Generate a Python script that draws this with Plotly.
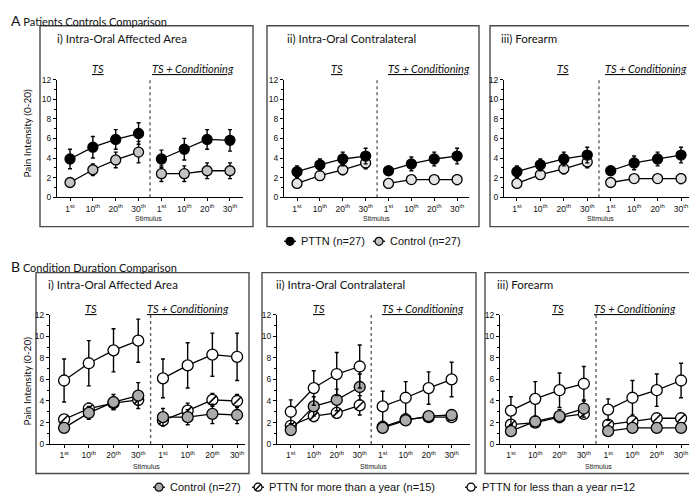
import plotly.graph_objects as go

W, H = 697, 494

# ---------------- data ----------------
stim_ticks = ["1<sup>st</sup>", "10<sup>th</sup>", "20<sup>th</sup>", "30<sup>th</sup>"] * 2
ts_x = [0, 1, 2, 3]
cond_x = [4, 5, 6, 7]

# A i) Intra-Oral Affected Area
a1_pttn_ts = [3.9, 5.1, 5.9, 6.5]
a1_pttn_ts_err = [1.0, 1.1, 1.0, 1.1]
a1_ctrl_ts = [1.5, 2.8, 3.8, 4.6]
a1_ctrl_ts_err = [0.3, 0.6, 0.8, 1.1]
a1_pttn_cond = [3.9, 4.9, 5.9, 5.8]
a1_pttn_cond_err = [0.9, 1.1, 1.0, 1.1]
a1_ctrl_cond = [2.4, 2.4, 2.7, 2.7]
a1_ctrl_cond_err = [0.8, 0.8, 0.8, 0.8]

# A ii) Intra-Oral Contralateral
a2_pttn_ts = [2.6, 3.3, 3.9, 4.2]
a2_pttn_ts_err = [0.6, 0.6, 0.7, 0.8]
a2_ctrl_ts = [1.4, 2.2, 2.8, 3.5]
a2_ctrl_ts_err = [0.3, 0.3, 0.5, 0.6]
a2_pttn_cond = [2.7, 3.4, 3.9, 4.2]
a2_pttn_cond_err = [0.4, 0.7, 0.7, 0.8]
a2_ctrl_cond = [1.4, 1.8, 1.8, 1.8]
a2_ctrl_cond_err = [0.3, 0.4, 0.4, 0.5]

# A iii) Forearm
a3_pttn_ts = [2.6, 3.3, 3.9, 4.3]
a3_pttn_ts_err = [0.6, 0.6, 0.7, 0.8]
a3_ctrl_ts = [1.4, 2.3, 2.9, 3.6]
a3_ctrl_ts_err = [0.3, 0.3, 0.5, 0.6]
a3_pttn_cond = [2.7, 3.5, 3.9, 4.3]
a3_pttn_cond_err = [0.4, 0.7, 0.7, 0.8]
a3_ctrl_cond = [1.5, 1.9, 1.9, 1.9]
a3_ctrl_cond_err = [0.3, 0.4, 0.4, 0.5]

# B i) Intra-Oral Affected Area
b1_ctrl_ts = [1.5, 2.9, 3.9, 4.5]
b1_ctrl_ts_err = [0.4, 0.6, 0.7, 1.2]
b1_more_ts = [2.3, 3.3, 3.8, 4.1]
b1_more_ts_err = [0.4, 0.5, 0.6, 0.5]
b1_less_ts = [5.9, 7.5, 8.7, 9.6]
b1_less_ts_err = [2.0, 2.1, 2.0, 2.0]
b1_ctrl_cond = [2.5, 2.5, 2.8, 2.7]
b1_ctrl_cond_err = [0.8, 0.7, 0.9, 0.8]
b1_more_cond = [2.2, 3.1, 4.1, 4.0]
b1_more_cond_err = [0.5, 0.7, 0.6, 0.6]
b1_less_cond = [6.1, 7.3, 8.3, 8.1]
b1_less_cond_err = [1.8, 2.1, 2.0, 2.2]

# B ii) Intra-Oral Contralateral
b2_ctrl_ts = [1.3, 3.5, 4.1, 5.3]
b2_ctrl_ts_err = [0.3, 0.9, 1.0, 1.2]
b2_more_ts = [1.7, 2.6, 2.9, 3.6]
b2_more_ts_err = [0.4, 0.5, 0.5, 0.9]
b2_less_ts = [3.0, 5.2, 6.5, 7.2]
b2_less_ts_err = [1.1, 1.6, 2.0, 2.0]
b2_ctrl_cond = [1.5, 2.2, 2.6, 2.7]
b2_ctrl_cond_err = [0.3, 0.4, 0.4, 0.5]
b2_more_cond = [1.6, 2.3, 2.5, 2.5]
b2_more_cond_err = [0.3, 0.3, 0.3, 0.3]
b2_less_cond = [3.5, 4.3, 5.2, 6.0]
b2_less_cond_err = [1.4, 1.5, 1.5, 1.6]

# B iii) Forearm
b3_ctrl_ts = [1.2, 2.1, 2.6, 3.3]
b3_ctrl_ts_err = [0.3, 0.4, 0.6, 0.8]
b3_more_ts = [1.8, 2.0, 2.5, 2.8]
b3_more_ts_err = [0.4, 0.4, 0.4, 0.4]
b3_less_ts = [3.1, 4.2, 5.0, 5.6]
b3_less_ts_err = [1.3, 1.6, 1.6, 1.6]
b3_ctrl_cond = [1.2, 1.5, 1.5, 1.5]
b3_ctrl_cond_err = [0.3, 0.3, 0.3, 0.3]
b3_more_cond = [1.8, 2.1, 2.4, 2.4]
b3_more_cond_err = [0.3, 0.3, 0.3, 0.3]
b3_less_cond = [3.2, 4.3, 5.0, 5.9]
b3_less_cond_err = [1.0, 1.6, 1.5, 1.6]

panel_titles = ["i) Intra-Oral Affected Area", "ii) Intra-Oral Contralateral", "iii) Forearm"]
legend_a = ["PTTN (n=27)", "Control (n=27)"]
legend_b = ["Control (n=27)", "PTTN for more than a year (n=15)", "PTTN for less than a year n=12"]

# ---------------- styling ----------------
TITLE_FONT = "Lato, 'Noto Sans', sans-serif"
ARIAL = "'Liberation Sans', Arial, sans-serif"
BLACK = "#000000"
GREY_A = "#c4c4c4"
GREY_A2 = "#e4e4e4"
GREY_B = "#ababab"
WHITE = "#ffffff"
BOX = "#4a4a4a"


def X(px):
    return px / W


def Y(py):
    return 1 - py / H


fig = go.Figure()

panels = [
    dict(n=1, xd=(49, 235), xr=(-0.57, 7.57), yd=(68, 188), box=(32, 13, 245, 218),
         title=(47, 26), ts=(90, 185), tsy=57, stim=(140, 210)),
    dict(n=2, xd=(276, 461), xr=(-0.57, 7.52), yd=(68, 188), box=(259, 13, 471, 218),
         title=(277, 26), ts=(329, 421), tsy=57, stim=(368, 210)),
    dict(n=3, xd=(496, 685), xr=(-0.55, 7.51), yd=(68, 188), box=(482, 13, 692, 218),
         title=(491, 26), ts=(555, 638), tsy=57, stim=(592, 210)),
    dict(n=4, xd=(42, 237), xr=(-0.57, 7.32), yd=(308, 440), box=(28, 265, 241, 470),
         title=(38, 277), ts=(83, 180), tsy=302, stim=(138, 463)),
    dict(n=5, xd=(269, 462), xr=(-0.6, 7.8), yd=(308, 440), box=(254, 265, 468, 470),
         title=(266, 277), ts=(311, 415), tsy=302, stim=(365, 463)),
    dict(n=6, xd=(492, 684), xr=(-0.45, 7.45), yd=(308, 440), box=(477, 265, 691, 470),
         title=(487, 277), ts=(550, 627), tsy=302, stim=(590, 463)),
]

series_a = [
    [(a1_ctrl_ts, a1_ctrl_ts_err, a1_ctrl_cond, a1_ctrl_cond_err, GREY_A, False),
     (a1_pttn_ts, a1_pttn_ts_err, a1_pttn_cond, a1_pttn_cond_err, BLACK, False)],
    [(a2_ctrl_ts, a2_ctrl_ts_err, a2_ctrl_cond, a2_ctrl_cond_err, GREY_A2, False),
     (a2_pttn_ts, a2_pttn_ts_err, a2_pttn_cond, a2_pttn_cond_err, BLACK, False)],
    [(a3_ctrl_ts, a3_ctrl_ts_err, a3_ctrl_cond, a3_ctrl_cond_err, GREY_A2, False),
     (a3_pttn_ts, a3_pttn_ts_err, a3_pttn_cond, a3_pttn_cond_err, BLACK, False)],
]
series_b = [
    [(b1_more_ts, b1_more_ts_err, b1_more_cond, b1_more_cond_err, WHITE, True),
     (b1_ctrl_ts, b1_ctrl_ts_err, b1_ctrl_cond, b1_ctrl_cond_err, GREY_B, False),
     (b1_less_ts, b1_less_ts_err, b1_less_cond, b1_less_cond_err, WHITE, False)],
    [(b2_more_ts, b2_more_ts_err, b2_more_cond, b2_more_cond_err, WHITE, True),
     (b2_ctrl_ts, b2_ctrl_ts_err, b2_ctrl_cond, b2_ctrl_cond_err, GREY_B, False),
     (b2_less_ts, b2_less_ts_err, b2_less_cond, b2_less_cond_err, WHITE, False)],
    [(b3_more_ts, b3_more_ts_err, b3_more_cond, b3_more_cond_err, WHITE, True),
     (b3_ctrl_ts, b3_ctrl_ts_err, b3_ctrl_cond, b3_ctrl_cond_err, GREY_B, False),
     (b3_less_ts, b3_less_ts_err, b3_less_cond, b3_less_cond_err, WHITE, False)],
]
all_series = series_a + series_b

annotations = []
shapes = []

for p, series in zip(panels, all_series):
    n = p["n"]
    xa = "x" if n == 1 else f"x{n}"
    ya = "y" if n == 1 else f"y{n}"
    msize = 10 if n <= 3 else 11
    for ts_v, ts_e, c_v, c_e, fill, hatched in series:
        for xs, vs, es in ((ts_x, ts_v, ts_e), (cond_x, c_v, c_e)):
            fig.add_trace(go.Scatter(
                x=xs, y=vs, xaxis=xa, yaxis=ya, mode="lines+markers",
                line=dict(color=BLACK, width=1.3),
                marker=dict(size=msize, color=fill, line=dict(color=BLACK, width=1.3)),
                error_y=dict(type="data", array=es, color=BLACK, thickness=1.4, width=2),
                showlegend=False, hoverinfo="skip", cliponaxis=False))
            if hatched:
                fig.add_trace(go.Scatter(
                    x=xs, y=vs, xaxis=xa, yaxis=ya, mode="markers",
                    marker=dict(size=msize - 3, symbol="line-ne",
                                line=dict(color=BLACK, width=1.6)),
                    showlegend=False, hoverinfo="skip", cliponaxis=False))

    key = "" if n == 1 else str(n)
    fig.layout["xaxis" + key] = dict(
        domain=[X(p["xd"][0]), X(p["xd"][1])], range=list(p["xr"]), anchor=ya,
        tickmode="array", tickvals=list(range(8)), ticktext=stim_ticks,
        showline=True, linecolor=BLACK, linewidth=1.3, ticks="outside", ticklen=3,
        tickcolor=BLACK, showgrid=False, zeroline=False,
        tickfont=dict(family=ARIAL, size=8.5, color="#111"), fixedrange=True)
    fig.layout["yaxis" + key] = dict(
        domain=[Y(p["yd"][1]), Y(p["yd"][0])], range=[0, 12], anchor=xa,
        tickvals=[0, 2, 4, 6, 8, 10, 12], showline=True, linecolor=BLACK, linewidth=1.3,
        ticks="outside", ticklen=3, tickcolor=BLACK, showgrid=False, zeroline=False,
        minor=dict(ticks="outside", dtick=1, ticklen=2, tickcolor=BLACK, showgrid=False),
        tickfont=dict(family=ARIAL, size=8.5, color="#111"), fixedrange=True)

    shapes.append(dict(type="line", xref=xa, yref=ya, x0=3.5, x1=3.5, y0=0, y1=12,
                       line=dict(color="#555555", width=1.3, dash="dot")))
    bx0, by0, bx1, by1 = p["box"]
    shapes.append(dict(type="rect", xref="paper", yref="paper", x0=X(bx0), x1=X(bx1),
                       y0=Y(by1), y1=Y(by0), line=dict(color=BOX, width=1.4),
                       fillcolor="rgba(0,0,0,0)", layer="below"))
    tx, ty = p["title"]
    annotations.append(dict(x=X(tx), y=Y(ty), xref="paper", yref="paper", xanchor="left",
                            yanchor="middle", showarrow=False, text=panel_titles[(n - 1) % 3],
                            font=dict(family=TITLE_FONT, size=11.5, color="#111")))
    annotations.append(dict(x=X(p["ts"][0]), y=Y(p["tsy"]), xref="paper", yref="paper",
                            xanchor="center", yanchor="middle", showarrow=False,
                            text="<i><u>TS</u></i>",
                            font=dict(family=TITLE_FONT, size=11, color="#111")))
    annotations.append(dict(x=X(p["ts"][1]), y=Y(p["tsy"]), xref="paper", yref="paper",
                            xanchor="center", yanchor="middle", showarrow=False,
                            text="<i><u>TS + Conditioning</u></i>",
                            font=dict(family=TITLE_FONT, size=11, color="#111")))
    annotations.append(dict(x=X(p["stim"][0]), y=Y(p["stim"][1]), xref="paper", yref="paper",
                            xanchor="center", yanchor="middle", showarrow=False,
                            text="Stimulus", font=dict(family=ARIAL, size=7, color="#222")))

for cy in (123, 376):
    annotations.append(dict(x=X(19), y=Y(cy), xref="paper", yref="paper", xanchor="center",
                            yanchor="middle", showarrow=False, textangle=-90,
                            text="Pain Intensity (0-20)",
                            font=dict(family=TITLE_FONT, size=10, color="#111")))

annotations.append(dict(x=X(1), y=Y(8), xref="paper", yref="paper", xanchor="left",
                        yanchor="middle", showarrow=False,
                        text="<span style='font-size:14px'>A</span> Patients Controls Comparison",
                        font=dict(family=TITLE_FONT, size=11, color="#111")))
annotations.append(dict(x=X(1), y=Y(259), xref="paper", yref="paper", xanchor="left",
                        yanchor="middle", showarrow=False,
                        text="<span style='font-size:14px'>B</span> Condition Duration Comparison",
                        font=dict(family=TITLE_FONT, size=11, color="#111")))

# ---------------- legends (overlay pixel axis) ----------------
fig.layout["xaxis7"] = dict(domain=[0, 1], range=[0, W], visible=False, fixedrange=True, anchor="y7")
fig.layout["yaxis7"] = dict(domain=[0, 1], range=[H, 0], visible=False, fixedrange=True, anchor="x7")

leg_a_pos = [(282, 233, BLACK, False), (371, 233, GREY_A, False)]
leg_b_pos = [(151, 484, GREY_B, False), (250, 484, WHITE, True), (463, 484, WHITE, False)]
for (mx, my, fill, hatched), label in list(zip(leg_a_pos, legend_a)) + list(zip(leg_b_pos, legend_b)):
    fig.add_trace(go.Scatter(x=[mx - 6, mx + 6], y=[my, my], xaxis="x7", yaxis="y7",
                             mode="lines", line=dict(color=BLACK, width=1.3),
                             showlegend=False, hoverinfo="skip"))
    fig.add_trace(go.Scatter(x=[mx], y=[my], xaxis="x7", yaxis="y7", mode="markers",
                             marker=dict(size=8, color=fill, line=dict(color=BLACK, width=1.2)),
                             showlegend=False, hoverinfo="skip"))
    if hatched:
        fig.add_trace(go.Scatter(x=[mx], y=[my], xaxis="x7", yaxis="y7", mode="markers",
                                 marker=dict(size=6, symbol="line-ne",
                                             line=dict(color=BLACK, width=1.4)),
                                 showlegend=False, hoverinfo="skip"))
    annotations.append(dict(x=X(mx + 9), y=Y(my), xref="paper", yref="paper", xanchor="left",
                            yanchor="middle", showarrow=False, text=label,
                            font=dict(family=ARIAL, size=11, color="#111")))

fig.update_layout(
    width=W, height=H, margin=dict(l=0, r=0, t=0, b=0),
    paper_bgcolor="white", plot_bgcolor="rgba(0,0,0,0)",
    showlegend=False, annotations=annotations, shapes=shapes,
)

fig.write_html("out.html")
